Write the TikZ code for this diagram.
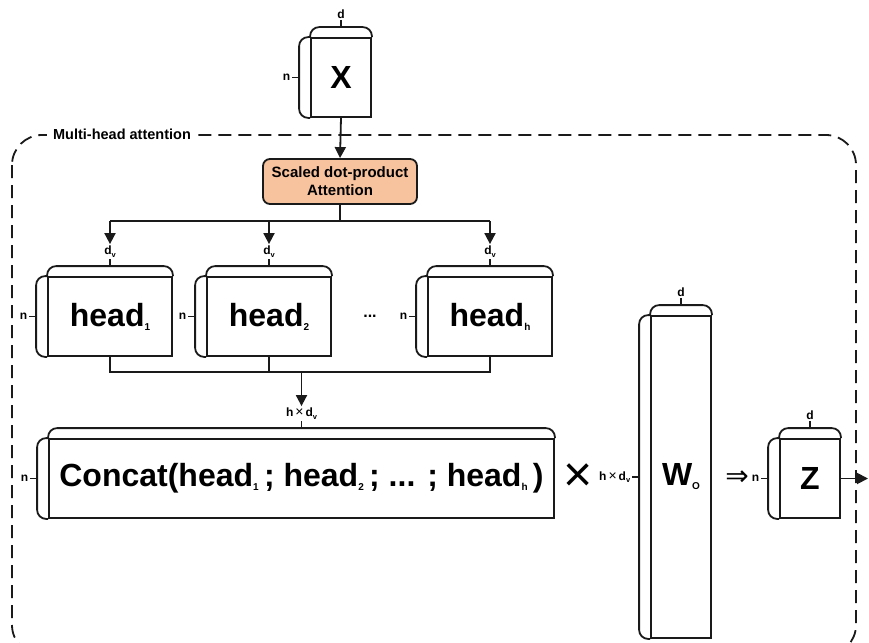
\documentclass[tikz,border=0pt]{standalone}
\usepackage{fontspec}
\setmainfont{Liberation Sans}
\newfontfamily\symfont{DejaVu Sans}
\usetikzlibrary{arrows.meta}

% small lowered indices
\newcommand\bigsub[1]{\raisebox{-4pt}{\fontsize{10}{10}\selectfont #1}}
\newcommand\tinysub[1]{\raisebox{-2.5pt}{\fontsize{7.5}{7.5}\selectfont #1}}
\newcommand\hxd{h\,{\mdseries\fontsize{14}{14}\selectfont ×}\,d\tinysub{v}}

\definecolor{attfill}{HTML}{F7C29E}
\definecolor{ink}{HTML}{1A1A1A}

\tikzset{
  mbox/.style={draw=ink, inner sep=0pt, fill=white, font=\fontsize{32}{32}\selectfont\bfseries},
  dimlbl/.style={inner sep=1pt, font=\fontsize{12}{12}\selectfont\bfseries},
  arr/.style={-{Triangle[width=11pt,length=11pt]}},
  attbox/.style={draw=ink, fill=attfill, rounded corners=7pt, minimum width=154pt,
    minimum height=45pt, align=center, inner sep=0pt, font=\fontsize{15}{18}\selectfont\bfseries},
  framebox/.style={draw=ink, dash pattern=on 13pt off 7pt, rounded corners=30pt},
}

% a matrix drawn as a stacked sheet with its two size marks
% #1 name, #2 centre, #3 width, #4 height, #5 content, #6 top mark, #7 left mark
\newcommand\mtx[7]{%
  \node[mbox, minimum width=#3, minimum height=#4] (#1) at (#2) {#5};
  \draw[rounded corners=9pt] (#1.north west) -- ([yshift=10pt]#1.north west)
    -- ([yshift=10pt]#1.north east) -- (#1.north east);
  \draw[rounded corners=9pt] (#1.north west) -- ([xshift=-11pt]#1.north west)
    -- ([xshift=-11pt]#1.south west) -- (#1.south west);
  \draw ([yshift=10pt]#1.north) -- ([yshift=17pt]#1.north) node[dimlbl, above] (#1-top) {#6};
  \draw ([xshift=-11pt]#1.west) -- ([xshift=-18pt]#1.west) node[dimlbl, left] (#1-left) {#7};
}

\begin{document}
\begin{tikzpicture}[x=1pt, y=-1pt, line width=1.8pt, draw=ink]
\useasboundingbox (0,0) rectangle (869,642);
\clip (0,0) rectangle (869,642);

% outer dashed frame of the multi-head block
\draw[framebox] (12,135) rectangle (856,655);
\node[fill=white, inner xsep=6pt, inner ysep=2pt, font=\fontsize{14.5}{14.5}\selectfont\bfseries]
  (mhlabel) at (122,134) {Multi-head attention};

% input
\mtx{X}{341,77.5}{60pt}{79pt}{X}{d}{n}

% attention block
\node[attbox] (att) at (340,181.5) {Scaled dot-product\\Attention};

% heads
\mtx{h1}{110,316.5}{124pt}{79pt}{head\bigsub{1}}{d\tinysub{v}}{n}
\mtx{h2}{269,316.5}{124pt}{79pt}{head\bigsub{2}}{d\tinysub{v}}{n}
\mtx{hh}{490,316.5}{124pt}{79pt}{head\bigsub{h}}{d\tinysub{v}}{n}
\node[font=\fontsize{16}{16}\selectfont\bfseries] (dots) at (370,316) {...};

% concatenation
\mtx{cc}{301.5,478.5}{505pt}{79pt}{\fontsize{32}{32}\selectfont Concat(head\bigsub{1}\,; head\bigsub{2}\,; ... ; head\bigsub{h}\,)}{\hxd}{n}

% output projection
\mtx{wo}{681,477}{60pt}{322pt}{W\bigsub{O}}{d}{\hxd}
\node[font=\fontsize{50}{50}\selectfont] (times) at (578,478) {×};
\node[font=\fontsize{28}{28}\selectfont\symfont] (implies) at (737,478) {⇒};

% result
\mtx{Z}{810,478.5}{60pt}{79pt}{Z}{d}{n}

% connectors
\draw[arr] (X.south) -- (att.north);
\coordinate (split) at (att.south |- 0,221);
\coordinate (sL) at (h1.north |- split);
\coordinate (sR) at (hh.north |- split);
\draw (att.south) -- (split);
\draw (sL) -- (sR);
\draw[arr] (sL) -- (h1-top.north);
\draw[arr] (h2.north |- split) -- (h2-top.north);
\draw[arr] (sR) -- (hh-top.north);

\coordinate (mL) at (h1.south |- 0,372);
\coordinate (mR) at (hh.south |- 0,372);
\draw (h1.south) -- (mL) -- (mR) -- (hh.south);
\draw (h2.south) -- (h2.south |- mL);
\draw[arr] (cc-top.north |- mL) -- (cc-top.north);

\coordinate (zout) at (868,478.5);
\draw[arr] (Z.east) -- (zout);
\end{tikzpicture}
\end{document}
